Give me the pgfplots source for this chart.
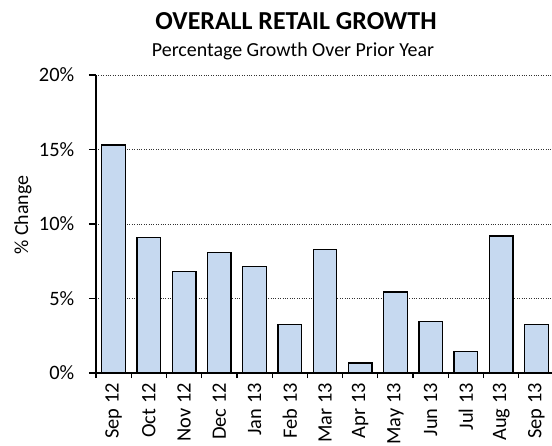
\documentclass[border=0pt]{standalone}
\usepackage{pgfplots}
\pgfplotsset{compat=1.18}
\usepackage{fontspec}
\setmainfont{Carlito}
\definecolor{barblue}{RGB}{198,217,240}

\begin{document}
\begin{tikzpicture}
\begin{axis}[
    at={(0,0)}, anchor=south west,
    scale only axis,
    width=458bp, height=298bp,
    xmin=-0.5, xmax=12.5,
    ymin=0, ymax=20,
    axis x line*=bottom,
    axis y line*=left,
    axis line style={-, black, line width=1.6bp},
    xtick={0,...,12},
    xticklabels={Sep 12,Oct 12,Nov 12,Dec 12,Jan 13,Feb 13,Mar 13,Apr 13,May 13,Jun 13,Jul 13,Aug 13,Sep 13},
    major x tick style={draw=none},
    minor xtick={-0.5,0.5,...,12.5},
    minor tick length=5bp,
    minor x tick style={black, line width=1.2bp},
    xticklabel style={rotate=90, anchor=east, inner ysep=0pt, inner xsep=3bp},
    ytick={0,5,10,15,20},
    yticklabel={\pgfmathprintnumber{\tick}\%},
    major y tick style={black, line width=1.2bp},
    major tick length=7bp,
    tick align=outside,
    yticklabel style={anchor=east, inner sep=0pt, xshift=-14.5bp},
    /pgf/number format/assume math mode=true,
    ticklabel style={font=\fontsize{20.5}{22}\selectfont},
    ymajorgrids,
    grid style={dotted, black!80, line width=0.9bp},
    ybar,
    bar width=0.67,
]
\addplot[fill=barblue, draw=black, line width=1.3bp] coordinates {
    (0,15.3) (1,9.1) (2,6.8) (3,8.1) (4,7.15) (5,3.27) (6,8.3)
    (7,0.68) (8,5.43) (9,3.45) (10,1.45) (11,9.2) (12,3.27)
};
\end{axis}
\node[anchor=base, font=\fontsize{26}{30}\selectfont\bfseries] at (200bp,343bp) {OVERALL RETAIL GROWTH};
\node[anchor=base, font=\fontsize{20}{22}\selectfont] at (197bp,316bp) {Percentage Growth Over Prior Year};
\node[rotate=90, font=\fontsize{20}{22}\selectfont] at (-73bp,158bp) {\% Change};
\pgfresetboundingbox
\useasboundingbox (-96bp,-73bp) rectangle (456bp,373bp);
\end{tikzpicture}
\end{document}
